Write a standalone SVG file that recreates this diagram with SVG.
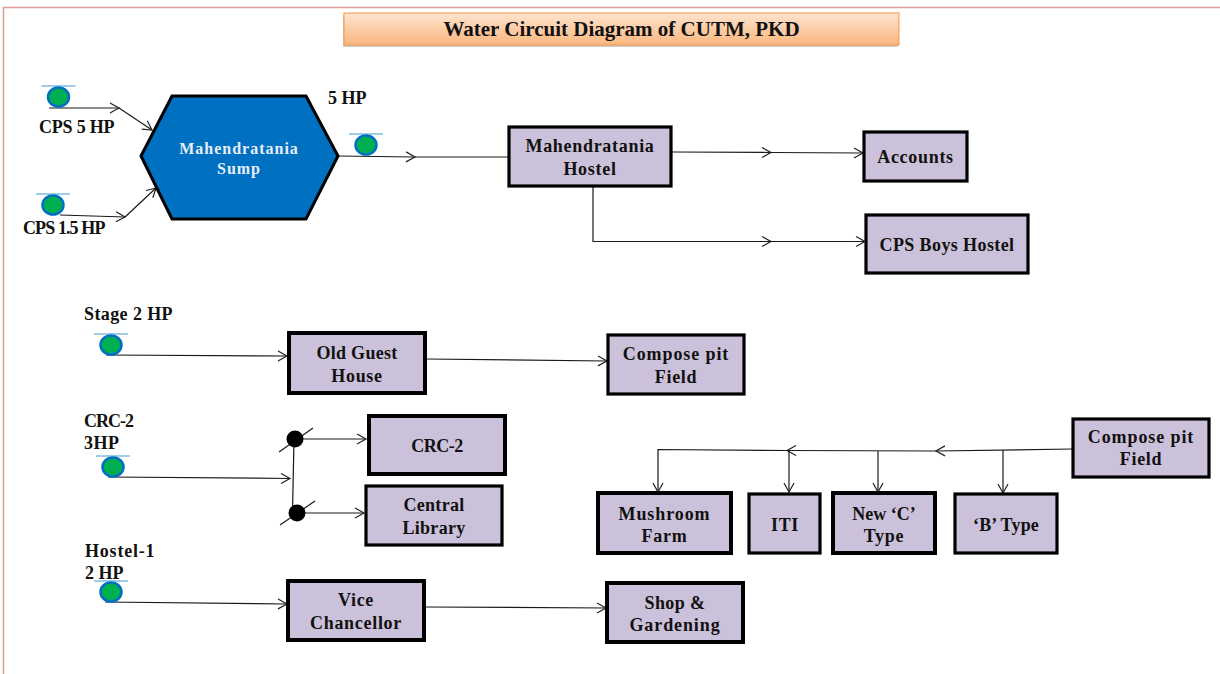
<svg xmlns="http://www.w3.org/2000/svg" width="1220" height="674" viewBox="0 0 1220 674">
<style>
text{font-family:"Liberation Serif","DejaVu Serif",serif;font-weight:700;font-size:18px;fill:#111;text-anchor:middle}
.b text{letter-spacing:.7px}
.l{text-anchor:start}
.b rect{fill:#ccc1da;stroke:#000;stroke-width:3.200}
.t rect{stroke-width:4}
.c path{fill:none;stroke:#1a1a1a;stroke-width:1.200}
.h{fill:none;stroke:#222;stroke-width:1.200}
.p ellipse{fill:#00b050;stroke:#0070c0;stroke-width:2.500}
.p line{stroke:#3d9bd8;stroke-width:1.200}
</style>
<defs>
<linearGradient id="g" x1="0" y1="0" x2="0" y2="1"><stop offset="0" stop-color="#fde4cf"/><stop offset="1" stop-color="#fbb67e"/></linearGradient>
<marker id="a" markerUnits="userSpaceOnUse" markerWidth="12" markerHeight="12" refX="10" refY="6" orient="auto"><path d="M1 1 L10 6 L1 11" fill="none" stroke="#222" stroke-width="1.200"/></marker>
<g id="pump" class="p"><line x1="-17" y1="-11" x2="17" y2="-11"/><ellipse rx="10.500" ry="9.500"/></g>
</defs>
<path d="M3.500 674V7.500H1220" fill="none" stroke="#dc9a9a" stroke-width="1.500"/>
<g id="title"><rect x="344" y="13" width="555" height="32" fill="#000" opacity=".2" transform="translate(-1 2)"/><rect x="344" y="13" width="555" height="32" fill="url(#g)" stroke="#f79646"/><text x="621.500" y="36" style="font-size:21px">Water Circuit Diagram of CUTM, PKD</text></g>
<g id="connectors" class="c">
<path d="M49 108H119" marker-end="url(#a)"/><path d="M119 108L152 130" marker-end="url(#a)"/>
<path d="M60 215L125 217" marker-end="url(#a)"/><path d="M125 217L156 188" marker-end="url(#a)"/>
<path d="M338 156L415 157" marker-end="url(#a)"/><path d="M415 157H509"/>
<path d="M672 152L771 152.500" marker-end="url(#a)"/><path d="M771 152.500L863 153" marker-end="url(#a)"/>
<path d="M593 187V241.500H771" marker-end="url(#a)"/><path d="M771 241.500H865" marker-end="url(#a)"/>
<path d="M106 355L287 356" marker-end="url(#a)"/><path d="M426 359L607 361" marker-end="url(#a)"/>
<path d="M108 477L290 478.500" marker-end="url(#a)"/>
<path d="M294 439L292.500 513"/><path d="M295 439H366" marker-end="url(#a)"/><path d="M297 513H364" marker-end="url(#a)"/>
<path d="M105 602L287 604" marker-end="url(#a)"/><path d="M426 607L606 608" marker-end="url(#a)"/>
<path d="M1073 449L936 451" marker-end="url(#a)"/><path d="M936 451L787 450.500" marker-end="url(#a)"/>
<path d="M787 450.500L658 449.500V492" marker-end="url(#a)"/><path d="M789 450V492" marker-end="url(#a)"/>
<path d="M878 451V492" marker-end="url(#a)"/><path d="M1003 450V493" marker-end="url(#a)"/>
<g id="junctions"><path class="h" d="M279 452L313 428"/><circle cx="295" cy="439" r="8.500" fill="#000"/><path class="h" d="M280 525L315 501"/><circle cx="297" cy="513" r="8.500" fill="#000"/></g>
</g>
<g id="sump"><path d="M172 96H306L338 156L306 219H172L141 156Z" fill="#0070c0" stroke="#000" stroke-width="3"/><text x="239" y="154" style="fill:#e8eef7;font-size:16px;letter-spacing:1px">Mahendratania</text><text x="239" y="174" style="fill:#e8eef7;font-size:16px;letter-spacing:1px">Sump</text></g>
<g id="pumps"><use href="#pump" x="58.500" y="97"/><use href="#pump" x="53" y="205"/><use href="#pump" x="366" y="145"/><use href="#pump" x="111" y="345"/><use href="#pump" x="113" y="467"/><use href="#pump" x="111" y="592"/></g>
<g id="labels">
<text class="l" x="39" y="133" style="letter-spacing:-.2px">CPS 5 HP</text><text class="l" x="23" y="234" style="letter-spacing:-.9px">CPS 1.5 HP</text><text class="l" x="328" y="104">5 HP</text><text class="l" x="84" y="320" style="letter-spacing:.4px">Stage 2 HP</text>
<text class="l" x="84" y="427" style="letter-spacing:-1px">CRC-2</text><text class="l" x="84" y="449" style="letter-spacing:.5px">3HP</text><text class="l" x="85" y="557" style="letter-spacing:.8px">Hostel-1</text><text class="l" x="85" y="579">2 HP</text>
</g>
<g id="mahendratania-hostel" class="b"><rect x="509" y="127" width="162" height="59"/><text x="590" y="152">Mahendratania</text><text x="590" y="175">Hostel</text></g>
<g id="accounts" class="b"><rect x="864" y="132" width="103" height="49"/><text x="915.500" y="163">Accounts</text></g>
<g id="cps-boys-hostel" class="b"><rect x="866" y="215" width="162" height="58"/><text x="947" y="251" style="letter-spacing:.4px">CPS Boys Hostel</text></g>
<g id="old-guest-house" class="b t"><rect x="289" y="333" width="136" height="60"/><text x="357" y="359" style="letter-spacing:.3px">Old Guest</text><text x="357" y="382">House</text></g>
<g id="compose-pit-1" class="b"><rect x="608" y="335" width="136" height="59"/><text x="676" y="360" style="letter-spacing:.9px">Compose pit</text><text x="676" y="383">Field</text></g>
<g id="crc-2" class="b t"><rect x="369" y="416" width="136" height="58"/><text x="437" y="452" style="letter-spacing:-.5px">CRC-2</text></g>
<g id="central-library" class="b"><rect x="366" y="486" width="136" height="59"/><text x="434" y="511" style="letter-spacing:.3px">Central</text><text x="434" y="534" style="letter-spacing:.3px">Library</text></g>
<g id="vice-chancellor" class="b t"><rect x="288" y="581" width="136" height="59"/><text x="356" y="606">Vice</text><text x="356" y="629">Chancellor</text></g>
<g id="shop-gardening" class="b t"><rect x="607" y="583" width="136" height="59"/><text x="675" y="609" style="letter-spacing:.4px">Shop &amp;</text><text x="675" y="631" style="letter-spacing:.9px">Gardening</text></g>
<g id="compose-pit-2" class="b"><rect x="1073" y="419" width="136" height="58"/><text x="1141" y="443" style="letter-spacing:.9px">Compose pit</text><text x="1141" y="465">Field</text></g>
<g id="mushroom-farm" class="b t"><rect x="598" y="493" width="133" height="60"/><text x="664.500" y="520" style="letter-spacing:.9px">Mushroom</text><text x="664.500" y="542">Farm</text></g>
<g id="iti" class="b"><rect x="749" y="494" width="71" height="59"/><text x="785" y="531">ITI</text></g>
<g id="new-c-type" class="b t"><rect x="833" y="493" width="102" height="60"/><text x="884" y="520" style="letter-spacing:0">New ‘C’</text><text x="884" y="542">Type</text></g>
<g id="b-type" class="b"><rect x="955" y="494" width="102" height="59"/><text x="1006" y="531" style="letter-spacing:.2px">‘B’ Type</text></g>
</svg>
